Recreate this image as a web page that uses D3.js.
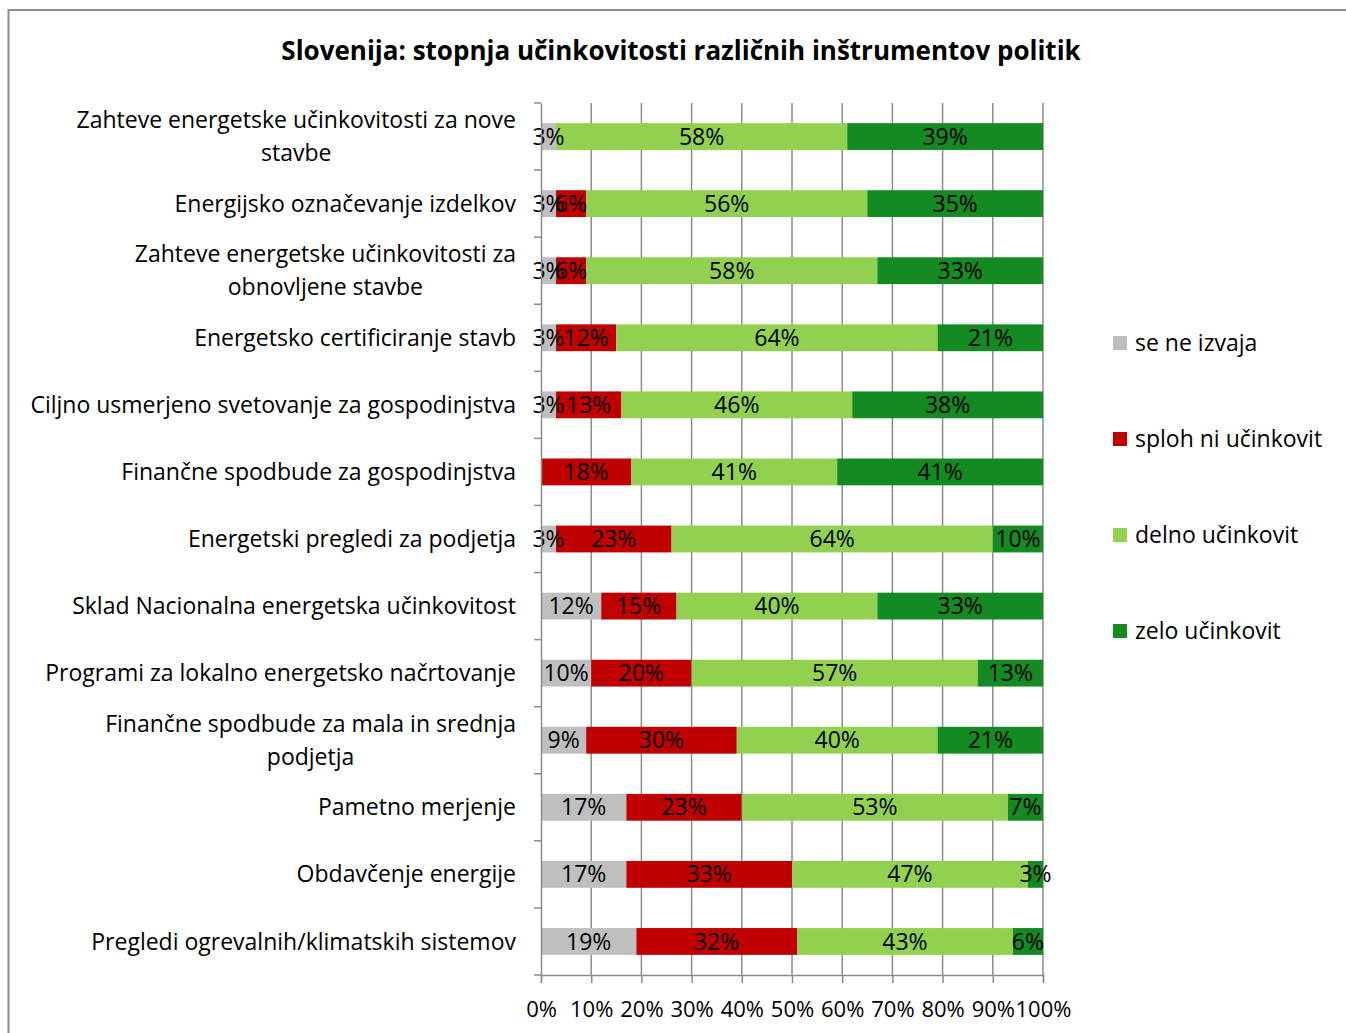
<!DOCTYPE html>
<html>
<head>
<meta charset="utf-8">
<script src="https://cdn.jsdelivr.net/npm/d3@7"></script>
<style>
  body { margin: 0; background: #fff; }
  svg text { font-family: "Open Sans", "Noto Sans", sans-serif; fill: #000; }
</style>
</head>
<body>
<div id="root"></div>
<script>
const WIDTH = 1346;
const HEIGHT = 1033;
const MARGIN = {top: 103, right: 301, bottom: 58, left: 541};
const FONT_SIZE = 23;

const categories = [
    "Zahteve energetske učinkovitosti za nove|stavbe",
    "Energijsko označevanje izdelkov",
    "Zahteve energetske učinkovitosti za|obnovljene stavbe",
    "Energetsko certificiranje stavb",
    "Ciljno usmerjeno svetovanje za gospodinjstva",
    "Finančne spodbude za gospodinjstva",
    "Energetski pregledi za podjetja",
    "Sklad Nacionalna energetska učinkovitost",
    "Programi za lokalno energetsko načrtovanje",
    "Finančne spodbude za mala in srednja|podjetja",
    "Pametno merjenje",
    "Obdavčenje energije",
    "Pregledi ogrevalnih/klimatskih sistemov"
];
const seriesNames = ["se ne izvaja", "sploh ni učinkovit", "delno učinkovit", "zelo učinkovit"];
const seNeIzvaja = [3, 3, 3, 3, 3, 0, 3, 12, 10, 9, 17, 17, 19];
const splohNi = [0, 6, 6, 12, 13, 18, 23, 15, 20, 30, 23, 33, 32];
const delno = [58, 56, 58, 64, 46, 41, 64, 40, 57, 40, 53, 47, 43];
const zelo = [39, 35, 33, 21, 38, 41, 10, 33, 13, 21, 7, 3, 6];
const xTicks = [0, 0.1, 0.2, 0.3, 0.4, 0.5, 0.6, 0.7, 0.8, 0.9, 1];
const colors = ["#BFBFBF", "#C00000", "#92D050", "#148A22"];

const rows = categories.map((c, i) => ({
    cat: c,
    [seriesNames[0]]: seNeIzvaja[i],
    [seriesNames[1]]: splohNi[i],
    [seriesNames[2]]: delno[i],
    [seriesNames[3]]: zelo[i]
}));

const stacked = d3.stack().keys(seriesNames)(rows);

const svg = d3.select("#root")
    .append("svg")
    .attr("width", WIDTH)
    .attr("height", HEIGHT);

// chart border
svg.append("rect")
    .attr("x", 8.5)
    .attr("y", 10)
    .attr("width", WIDTH + 20)
    .attr("height", HEIGHT + 20)
    .attr("fill", "none")
    .attr("stroke", "#8c8c8c")
    .attr("stroke-width", 2);

const xScale = d3.scaleLinear()
    .domain([0, 100])
    .range([MARGIN.left, WIDTH - MARGIN.right - 2]);

const yScale = d3.scaleBand()
    .domain(categories)
    .range([MARGIN.top, HEIGHT - MARGIN.bottom])
    .paddingInner(0.6)
    .paddingOuter(0.3);

const plotBottom = HEIGHT - MARGIN.bottom;

// vertical gridlines
svg.append("g")
    .selectAll("line")
    .data(xTicks.slice(1))
    .join("line")
    .attr("x1", d => xScale(d * 100))
    .attr("x2", d => xScale(d * 100))
    .attr("y1", MARGIN.top)
    .attr("y2", plotBottom)
    .attr("stroke", "#8c8c8c")
    .attr("stroke-width", 1.5);

// bars
svg.append("g")
    .selectAll("g")
    .data(stacked)
    .join("g")
    .attr("fill", (d, i) => colors[i])
    .selectAll("rect")
    .data(d => d)
    .join("rect")
    .attr("x", d => xScale(d[0]))
    .attr("y", d => yScale(d.data.cat))
    .attr("width", d => xScale(d[1]) - xScale(d[0]))
    .attr("height", yScale.bandwidth());

// data labels, drawn above all bars
svg.append("g")
    .selectAll("g")
    .data(stacked)
    .join("g")
    .selectAll("text")
    .data(d => d.filter(p => p[1] - p[0] > 0))
    .join("text")
    .attr("x", d => (xScale(d[0]) + xScale(d[1])) / 2)
    .attr("y", d => yScale(d.data.cat) + yScale.bandwidth() / 2)
    .attr("dy", "0.35em")
    .attr("text-anchor", "middle")
    .attr("font-size", FONT_SIZE)
    .text(d => (d[1] - d[0]) + "%");

// y axis
const yAxis = d3.axisLeft(yScale).tickSize(0).tickFormat("");
svg.append("g")
    .attr("transform", `translate(${MARGIN.left}, 0)`)
    .call(yAxis)
    .call(g => g.select(".domain").attr("stroke", "#8c8c8c").attr("stroke-width", 1.5));

// y ticks between categories
const yTickPos = d3.range(categories.length + 1).map(i => MARGIN.top + i * (plotBottom - MARGIN.top) / categories.length);
svg.append("g")
    .selectAll("line")
    .data(yTickPos)
    .join("line")
    .attr("x1", MARGIN.left - 7)
    .attr("x2", MARGIN.left)
    .attr("y1", d => d)
    .attr("y2", d => d)
    .attr("stroke", "#8c8c8c")
    .attr("stroke-width", 1.5);

// category labels
const catLabels = svg.append("g")
    .selectAll("text")
    .data(categories)
    .join("text")
    .attr("font-size", FONT_SIZE)
    .attr("text-anchor", "middle");

catLabels.each(function (c) {
    const lines = c.split("|");
    const t = d3.select(this);
    const cy = yScale(c) + yScale.bandwidth() / 2;
    const lh = 33;
    lines.forEach((ln, k) => {
        t.append("tspan")
            .attr("y", cy + (k - (lines.length - 1) / 2) * lh)
            .attr("dy", "0.35em")
            .text(ln);
    });
    // right-align the block, centre the lines within it
    const w = d3.max(t.selectAll("tspan").nodes(), n => n.getComputedTextLength());
    t.selectAll("tspan").attr("x", 516 - w / 2);
});

// x axis
const xAxis = d3.axisBottom(xScale)
    .tickValues(xTicks.map(d => d * 100))
    .tickSize(8)
    .tickPadding(18)
    .tickFormat(d => d + "%");
svg.append("g")
    .attr("transform", `translate(0, ${plotBottom})`)
    .call(xAxis)
    .call(g => g.select(".domain").attr("stroke", "#8c8c8c").attr("stroke-width", 1.5))
    .call(g => g.selectAll(".tick line").attr("stroke", "#8c8c8c").attr("stroke-width", 1.5))
    .call(g => g.selectAll(".tick text").attr("font-size", 22).attr("font-family", null).attr("fill", "#000"));

// title
svg.append("text")
    .attr("x", 681)
    .attr("y", 60)
    .attr("text-anchor", "middle")
    .attr("font-size", 26)
    .attr("font-weight", "bold")
    .text("Slovenija: stopnja učinkovitosti različnih inštrumentov politik");

// legend
const legend = svg.append("g")
    .selectAll("g")
    .data(seriesNames)
    .join("g")
    .attr("transform", (d, i) => `translate(1113, ${343 + i * 96})`);

legend.append("rect")
    .attr("x", 0)
    .attr("y", -7)
    .attr("width", 14)
    .attr("height", 14)
    .attr("fill", (d, i) => colors[i]);

legend.append("text")
    .attr("x", 22)
    .attr("dy", "0.35em")
    .attr("font-size", FONT_SIZE)
    .text(d => d);
</script>
</body>
</html>
